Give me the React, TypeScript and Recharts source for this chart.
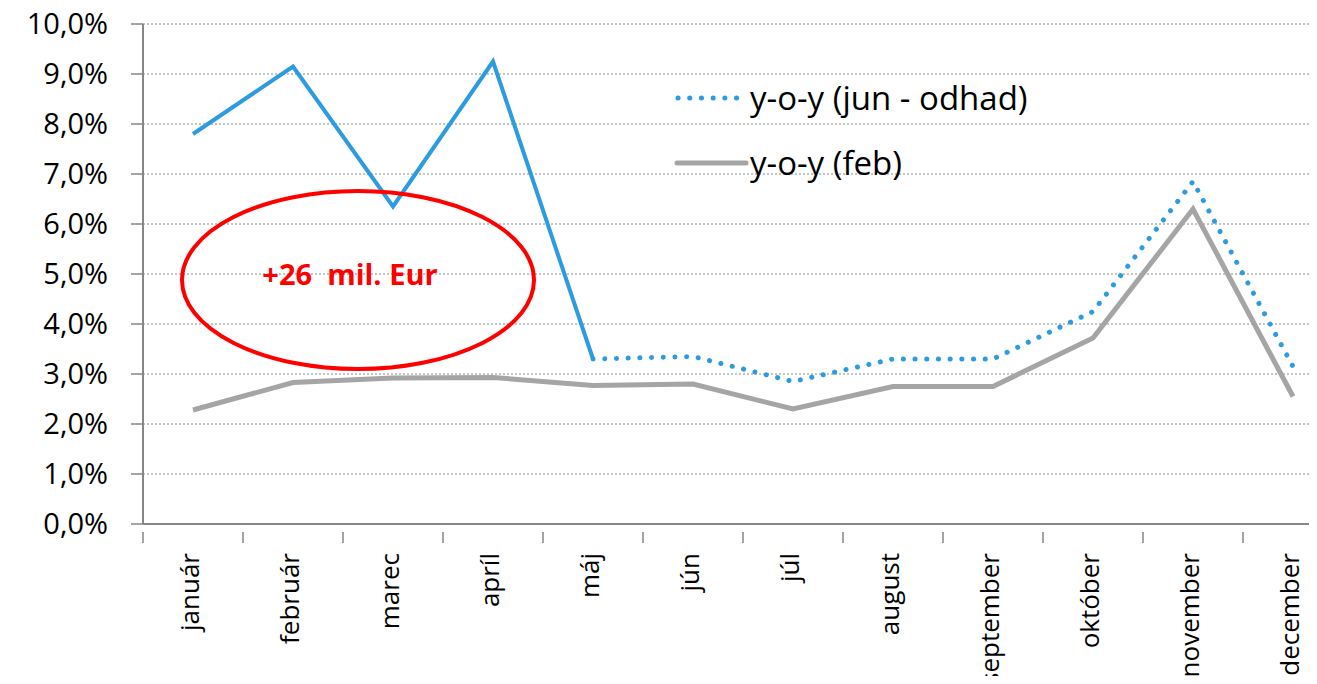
import React from 'react';
import {
  LineChart,
  Line,
  XAxis,
  YAxis,
  CartesianGrid,
  ReferenceDot,
} from 'recharts';

const months = [
  'január', 'február', 'marec', 'apríl', 'máj', 'jún',
  'júl', 'august', 'september', 'október', 'november', 'december',
];

// y-o-y actual (solid, jan - máj)
const actualValues = [7.8, 9.15, 6.35, 9.25, 3.3, null, null, null, null, null, null, null];
// y-o-y (jun - odhad), dotted from máj onward
const estimateValues = [null, null, null, null, 3.3, 3.35, 2.85, 3.3, 3.3, 4.25, 6.85, 3.15];
// y-o-y (feb)
const febValues = [2.28, 2.83, 2.92, 2.93, 2.77, 2.8, 2.3, 2.75, 2.75, 3.72, 6.3, 2.55];

const yTicks = [0, 1, 2, 3, 4, 5, 6, 7, 8, 9, 10];
const xTicks = Array.from({ length: 25 }, (_, i) => i / 2);

const legendLabels = ['y-o-y (jun - odhad)', 'y-o-y (feb)'];
const annotationText = '+26  mil. Eur';
const annotationCenter = { x: 2.15, y: 4.88 };

const BLUE = '#2d9be0';
const GRAY = '#a5a5a5';
const FONT = '"Open Sans", sans-serif';

const data = months.map((m, i) => ({
  x: i + 0.5,
  month: m,
  actual: actualValues[i],
  estimate: estimateValues[i],
  feb: febValues[i],
}));

const MonthTick = (props: any) => {
  const { x, y, payload } = props;
  const v = payload.value as number;
  if (Number.isInteger(v)) {
    return <line x1={x} y1={y} x2={x} y2={y + 11} stroke="#868686" strokeWidth={1.5} />;
  }
  const label = months[Math.floor(v)];
  return (
    <text
      x={x - 4}
      y={y + 21}
      transform={`rotate(-90, ${x - 4}, ${y + 21})`}
      textAnchor="end"
      dominantBaseline="central"
      fontFamily={FONT}
      fontSize={26}
      fill="#000"
    >
      {label}
    </text>
  );
};

const ChartLegend = () => (
  <div
    style={{
      position: 'absolute',
      top: 76,
      left: 672,
      fontFamily: FONT,
      fontSize: 33,
      color: '#000',
      lineHeight: '44px',
    }}
  >
    <div style={{ display: 'flex', alignItems: 'center', height: 44 }}>
      <svg width={78} height={20}>
        <line x1={6} y1={10} x2={70} y2={10} stroke={BLUE} strokeWidth={5}
          strokeDasharray="0.1 11.6" strokeLinecap="round" />
      </svg>
      <span>{legendLabels[0]}</span>
    </div>
    <div style={{ display: 'flex', alignItems: 'center', height: 44, marginTop: 21 }}>
      <svg width={78} height={20}>
        <line x1={5} y1={10} x2={74} y2={10} stroke={GRAY} strokeWidth={5} strokeLinecap="round" />
      </svg>
      <span>{legendLabels[1]}</span>
    </div>
  </div>
);

const EllipseShape = (props: any) => {
  const { cx, cy } = props;
  return (
    <g>
      <ellipse cx={cx} cy={cy} rx={176} ry={89} fill="none" stroke="#ff0000" strokeWidth={4} />
      <text
        x={cx - 8}
        y={cy - 7}
        textAnchor="middle"
        dominantBaseline="central"
        fontFamily={FONT}
        fontWeight="bold"
        fontSize={29}
        fill="#ff0000"
        style={{ whiteSpace: 'pre' }}
      >
        {annotationText}
      </text>
    </g>
  );
};

export default function App() {
  return (
    <div
      style={{
        position: 'relative',
        margin: -8,
        width: 1317,
        height: 684,
        overflow: 'hidden',
        background: '#fff',
      }}
    >
      <LineChart
        width={1360}
        height={684}
        data={data}
        margin={{ top: 24, right: 17, left: 0, bottom: 0 }}
      >
        <CartesianGrid
          vertical={false}
          stroke="#888"
          strokeDasharray="2 2"
          strokeWidth={1}
        />
        <XAxis
          type="number"
          dataKey="x"
          domain={[0, 12]}
          ticks={xTicks}
          interval={0}
          tick={<MonthTick />}
          tickLine={false}
          axisLine={{ stroke: '#868686', strokeWidth: 2 }}
          height={160}
        />
        <YAxis
          domain={[0, 10]}
          ticks={yTicks}
          interval={0}
          width={143}
          tickSize={12}
          tickMargin={23}
          tickFormatter={(v: number) => `${v.toFixed(1).replace('.', ',')}%`}
          tick={{ fill: '#000', fontSize: 29, fontFamily: FONT }}
          tickLine={{ stroke: '#868686', strokeWidth: 1.5 }}
          axisLine={{ stroke: '#868686', strokeWidth: 2 }}
        />
        <Line
          dataKey="feb"
          stroke={GRAY}
          strokeWidth={5}
          dot={false}
          isAnimationActive={false}
        />
        <Line
          dataKey="actual"
          stroke={BLUE}
          strokeWidth={4}
          dot={false}
          isAnimationActive={false}
        />
        <Line
          dataKey="estimate"
          stroke={BLUE}
          strokeWidth={5}
          strokeDasharray="0.1 11.6"
          strokeLinecap="round"
          dot={false}
          isAnimationActive={false}
        />
        <ReferenceDot
          x={annotationCenter.x}
          y={annotationCenter.y}
          shape={<EllipseShape />}
          ifOverflow="visible"
        />
      </LineChart>
      <ChartLegend />
    </div>
  );
}
